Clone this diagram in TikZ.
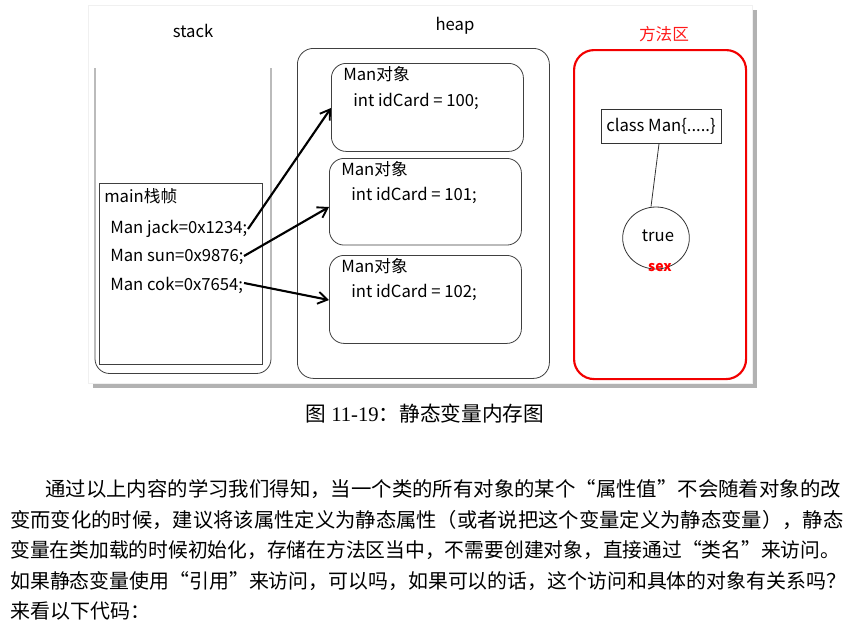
\documentclass[tikz,border=0pt]{standalone}
\usepackage{fontspec}
\setmainfont{Noto Sans CJK SC}
\newfontfamily\serifnum{Liberation Serif}
\usetikzlibrary{arrows.meta,shapes.geometric}
\begin{document}
\begin{tikzpicture}[x=0.75pt,y=-0.75pt,
  lbl/.style={font=\fontsize{12.5pt}{14pt}\selectfont, inner sep=0pt, anchor=west},
  objbox/.style={draw=black!75, line width=0.6pt, rounded corners=11pt},
  ptr/.style={line width=1.6pt, -{Straight Barb[length=7pt,width=9pt,line width=1.4pt]}},
  body/.style={font=\fontsize{15pt}{17pt}\selectfont, inner sep=0pt, anchor=west}]
\useasboundingbox (0,0) rectangle (848,629);
% screenshot frame with shadow
\fill[black!30] (93,10) rectangle (757,388);
\fill[white] (88,5) rectangle (752,383);
\draw[black!6, line width=0.5pt] (88,5) rectangle (752,383);
% stack
\node[lbl, anchor=center] (stacklbl) at (193,31) {stack};
\draw[black!75, line width=0.6pt, rounded corners=11pt] (95,68) -- (95,373.5) -- (271,373.5) -- (271,68);
\node[draw=black!75, line width=0.6pt, minimum width=122pt, minimum height=136pt, anchor=north west, inner sep=0pt] (frame) at (99,183) {};
\node[lbl] (mainlbl) at (104,196) {main栈帧};
\node[lbl] (jack) at (110,229) {Man jack=0x1234;};
\node[lbl] (sun) at (110,257) {Man sun=0x9876;};
\node[lbl] (cok) at (110,285) {Man cok=0x7654;};
% heap
\node[lbl, anchor=center] (heaplbl) at (455,26) {heap};
\node[draw=black!75, line width=0.6pt, rounded corners=12pt, minimum width=189pt, minimum height=247.5pt, anchor=north west, inner sep=0pt] (heap) at (297,48) {};
\node[objbox, minimum width=144pt, minimum height=66pt, anchor=north west, inner sep=0pt] (obj1) at (331,63) {};
\node[objbox, minimum width=144pt, minimum height=65pt, anchor=north west, inner sep=0pt] (obj2) at (329,158) {};
\node[objbox, minimum width=144pt, minimum height=66pt, anchor=north west, inner sep=0pt] (obj3) at (329,255) {};
\node[lbl] (o1a) at (343,74) {Man对象};
\node[lbl] (o1b) at (353,101) {int idCard = 100;};
\node[lbl] (o2a) at (341,169) {Man对象};
\node[lbl] (o2b) at (351,195) {int idCard = 101;};
\node[lbl] (o3a) at (341,266) {Man对象};
\node[lbl] (o3b) at (351,292) {int idCard = 102;};
% pointers
\coordinate (p1) at (248,229);
\coordinate (p2) at (244,256);
\coordinate (p3) at (244,283);
\draw[ptr] (p1) -- (obj1.west |- 0,108);
\draw[ptr] (p2) -- (obj2.west |- 0,207);
\draw[ptr] (p3) -- (obj3.west |- 0,300);
% method area
\node[lbl, anchor=center, text=red!90] (mlbl) at (664,34) {方法区};
\node[draw=red!95!black, line width=1.6pt, rounded corners=15pt, minimum width=129pt, minimum height=246.75pt, anchor=north west, inner sep=0pt] (marea) at (573,49) {};
\node[draw=black!80, line width=0.6pt, minimum width=90pt, minimum height=25.5pt, anchor=north west, inner sep=0pt] (cls) at (601,109) {};
\node[lbl, anchor=center] (clstxt) at (661,126) {class Man\{.....\}};
\node[draw=black!80, line width=0.6pt, ellipse, minimum width=50pt, minimum height=46.5pt, inner sep=0pt] (circ) at (656,238) {};
\node[lbl, anchor=center] (truetxt) at (658,236) {true};
\draw[black!80, line width=0.6pt] (cls.south -| 659,0) -- (circ.north -| 651,0);
\node[lbl, anchor=center, text=red, font=\fontsize{10.5pt}{12pt}\selectfont\bfseries] (sex) at (660,268) {sex};
% caption
\node[inner sep=0pt, font=\fontsize{15.5pt}{17pt}\selectfont] (cap) at (425,414) {图 {\serifnum 11-19}：静态变量内存图};
% body text
\node[body] (l1) at (45,489) {\scalebox{1.02}[1]{通过以上内容的学习我们得知，当一个类的所有对象的某个“属性值”不会随着对象的改}};
\node[body] (l2) at (10,520) {\scalebox{1.016}[1]{变而变化的时候，建议将该属性定义为静态属性（或者说把这个变量定义为静态变量），静态}};
\node[body] (l3) at (10,550) {\scalebox{0.988}[1]{变量在类加载的时候初始化，存储在方法区当中，不需要创建对象，直接通过“类名”来访问。}};
\node[body] (l4) at (10,581) {\scalebox{0.995}[1]{如果静态变量使用“引用”来访问，可以吗，如果可以的话，这个访问和具体的对象有关系吗？}};
\node[body] (l5) at (10,611) {来看以下代码：};
\end{tikzpicture}
\end{document}
